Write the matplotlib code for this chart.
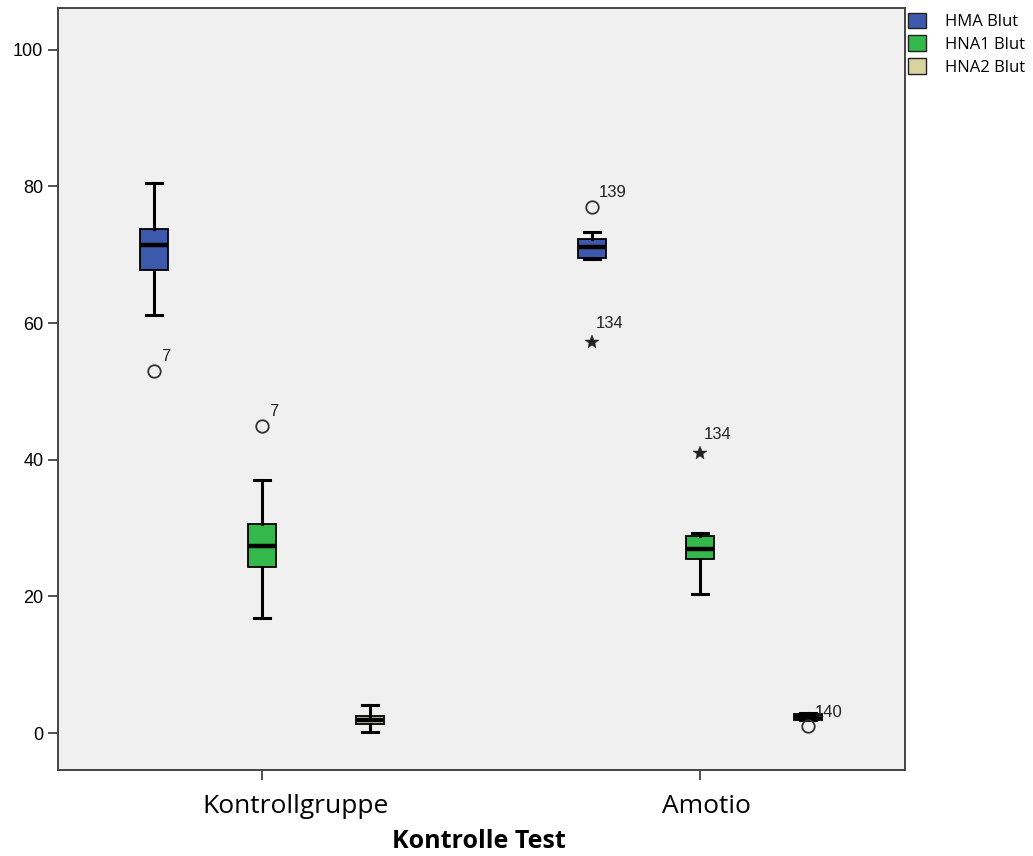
import matplotlib.pyplot as plt
from matplotlib.patches import Patch

groups = ["Kontrollgruppe", "Amotio"]
series = ["HMA Blut", "HNA1 Blut", "HNA2 Blut"]
colors = ["#3d59ab", "#35b84b", "#d9d3a0"]

# box statistics per group, one entry per series
whislo = [[61.2, 16.8, 0.1], [69.4, 20.4, 1.9]]
q1 = [[67.8, 24.3, 1.3], [69.5, 25.4, 1.9]]
med = [[71.4, 27.3, 1.9], [71.1, 27.0, 2.3]]
q3 = [[73.8, 30.6, 2.5], [72.3, 28.9, 2.8]]
whishi = [[80.5, 37.0, 4.1], [73.3, 29.3, 2.9]]

# outliers (circles) and extremes (stars): group, series, value, case number
outliers = [(0, 0, 53.0, "7"), (0, 1, 45.0, "7"), (1, 0, 77.0, "139"), (1, 2, 1.0, "140")]
extremes = [(1, 0, 57.2, "134"), (1, 1, 41.0, "134")]

offset = 0.2466
width = 0.064

fig = plt.figure(figsize=(10.33, 8.56), dpi=100)
ax = fig.add_axes([0.0561, 0.1005, 0.8200, 0.8902])
ax.set_facecolor("#f0f0f0")

for g in range(len(groups)):
    for s in range(len(series)):
        pos = g + (s - 1) * offset
        stats = [dict(whislo=whislo[g][s], q1=q1[g][s], med=med[g][s],
                      q3=q3[g][s], whishi=whishi[g][s], fliers=[])]
        ax.bxp(stats, positions=[pos], widths=width, capwidths=width * 0.55,
               patch_artist=True, manage_ticks=False,
               boxprops=dict(facecolor=colors[s], edgecolor="black", linewidth=1.3),
               medianprops=dict(color="black", linewidth=3.2),
               whiskerprops=dict(color="black", linewidth=2.2),
               capprops=dict(color="black", linewidth=2.2))

def pos_of(g, s):
    return g + (s - 1) * offset

for g, s, v, lab in outliers:
    x = pos_of(g, s)
    ax.plot(x, v, "o", ms=9, mfc="none", mec="#333333", mew=1.3)
    ax.annotate(lab, (x, v), xytext=(5, 7), textcoords="offset points",
                fontsize=12, family="Liberation Sans", color="#222222")

for g, s, v, lab in extremes:
    x = pos_of(g, s)
    ax.plot(x, v, "*", ms=10, color="#222222", mew=0.3)
    ax.annotate(lab, (x, v), xytext=(3, 10), textcoords="offset points",
                fontsize=12, family="Liberation Sans", color="#222222")

ax.set_xlim(-0.466, 1.468)
ax.set_ylim(-5.4, 106.1)
ax.set_xticks(range(len(groups)))
ax.set_xticklabels([])
# category labels sit a little right of their ticks
xaxis_tf = ax.get_xaxis_transform()
for g, (name, dx) in enumerate(zip(groups, [24, 4.5])):
    ax.annotate(name, (g, 0), xycoords=xaxis_tf, xytext=(dx, -17),
                textcoords="offset points", ha="center", va="top",
                family="Open Sans", fontsize=19, annotation_clip=False)
ax.set_yticks([0, 20, 40, 60, 80, 100])
for t in ax.get_yticklabels():
    t.set_family("Liberation Sans")
    t.set_fontsize(13)
ax.tick_params(axis="both", length=7, width=1.3, color="#444444")
ax.set_xlabel("Kontrolle Test", family="Open Sans", fontsize=18,
              fontweight="bold")
ax.xaxis.set_label_coords(0.497, -0.077)
for sp in ax.spines.values():
    sp.set_color("#444444")
    sp.set_linewidth(1.4)

handles = [Patch(facecolor=c, edgecolor="#222222", label=n) for c, n in zip(colors, series)]
fig.legend(handles=handles, loc="upper left", bbox_to_anchor=(0.867, 1.0),
           frameon=False, handlelength=1.1, handleheight=1.05,
           handletextpad=1.1, labelspacing=0.33, borderaxespad=0.35,
           prop=dict(family="Open Sans", size=12))

fig.savefig("out.png", dpi=100)
